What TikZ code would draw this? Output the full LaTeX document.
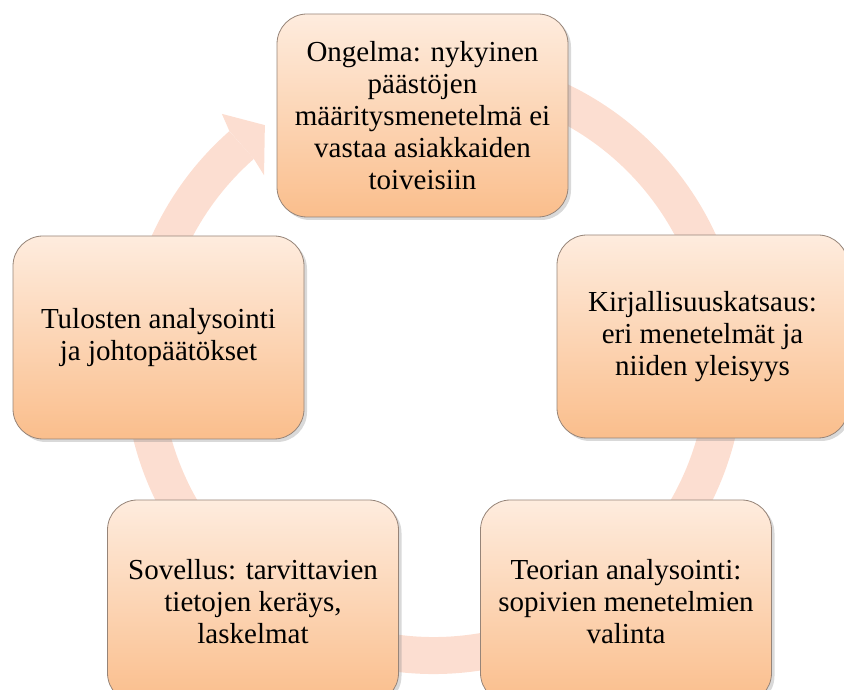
\documentclass[tikz,border=0pt]{standalone}
\usepackage{fontspec}
\setmainfont{Liberation Serif}
\usetikzlibrary{shadows}
\definecolor{boxtop}{RGB}{254,236,222}
\definecolor{boxbot}{RGB}{250,190,140}
\definecolor{boxline}{RGB}{150,132,120}
\definecolor{ringpink}{RGB}{252,222,209}
\tikzset{
  stepbox/.style={rounded corners=30pt, minimum width=291pt, minimum height=203pt,
    top color=boxtop, bottom color=boxbot, draw=boxline, line width=0.8pt,
    drop shadow={shadow xshift=3pt, shadow yshift=-3pt, opacity=0.3},
    align=center, font=\fontsize{29}{32}\selectfont},
  ring/.style={draw=ringpink, line width=37pt}
}
\begin{document}
\begin{tikzpicture}[x=1pt, y=1pt]
	\useasboundingbox (0,0) rectangle (844,690);
	\coordinate (c) at (434,326);

	% kehanuoli
	\draw[ring] (c) ++(100:291.5) arc[start angle=100, end angle=-228.7, radius=291.5];
	\begin{scope}[shift={(c)}]
		\fill[ringpink] (131.3:310) -- (130.3:328) -- (125.3:292.7) -- (132:254) -- (131.3:273) -- cycle;
	\end{scope}

	\node (ongelma) [stepbox] at (422.5,574.5) {Ongelma: nykyinen\\päästöjen\\määritysmenetelmä ei\\vastaa asiakkaiden\\toiveisiin};
	\node (kirj) [stepbox] at (702.5,353.5) {Kirjallisuuskatsaus:\\eri menetelmät ja\\niiden yleisyys};
	\node (teoria) [stepbox] at (626,88.5) {Teorian analysointi:\\sopivien menetelmien\\valinta};
	\node (sovellus) [stepbox] at (253,88.5) {Sovellus: tarvittavien\\tietojen keräys,\\laskelmat};
	\node (tulokset) [stepbox] at (158.5,352.5) {Tulosten analysointi\\ja johtopäätökset};
\end{tikzpicture}
\end{document}
